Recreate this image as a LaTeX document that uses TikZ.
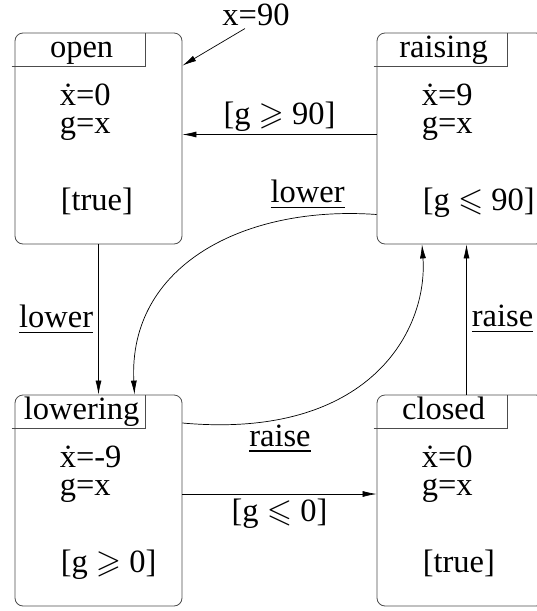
\documentclass[tikz,border=0pt]{standalone}
\usepackage{amssymb}
\usepackage{fontspec}
\setmainfont{Liberation Serif}
\usetikzlibrary{arrows.meta,calc,positioning}
\tikzset{
  statebox/.style={draw=black!70,line width=0.8pt,rounded corners=8pt,minimum width=167pt,minimum height=211pt,inner sep=0pt},
  headline/.style={black!70,line width=0.8pt},
  txt/.style={font=\fontsize{32.5}{36}\selectfont,inner sep=0pt},
  trans/.style={-{Latex[length=14pt,width=6pt]},line width=0.7pt},
}

\begin{document}
\begin{tikzpicture}[x=1pt,y=-1pt]
\useasboundingbox (0,0) rectangle (536,611);
% the four states of the gate
\foreach \nm/\cx/\cy/\ttl/\rate/\inv in {open/98.5/138.5/open/0/{[true]},
    raising/460.5/138.5/raising/9/{[g $\leqslant$ 90]},
    lowering/98.5/500.5/lowering/-9/{[g $\geqslant$ 0]},
    closed/460.5/500.5/closed/0/{[true]}}{
  \node[statebox] (\nm) at (\cx,\cy) {};
  \draw[headline] ($(\nm.north west)+(-3,34)$) -| ($(\nm.north west)+(131,0)$);
  \node[txt,anchor=base] (\nm-title) at ($(\nm.north west)+(67,25)$) {\ttl};
  \node[txt,anchor=base west] (\nm-rate) at ($(\nm.north west)+(45,73)$) {\.x=\rate};
  \node[txt,anchor=base west] (\nm-g) at ($(\nm.north west)+(45,101)$) {g=x};
  \node[txt,anchor=base west] (\nm-inv) at ($(\nm.north west)+(46,178)$) {\inv};
}
\node[txt,anchor=base] (init) at (256,25) {x=90};
\draw[trans] ($(init.south)+(-11,3)$) -- ($(open.north east)+(0,33)$);
\draw[trans] ($(raising.west)+(0,-4)$) -- ($(open.east)+(0,-4)$)
  node[txt,midway,above=3pt] (g90) {[g $\geqslant$ 90]};
\draw[trans] (open) -- (lowering)
  node[txt,midway,left=5pt] (lower1) {\underline{lower}};
\draw[trans] ($(closed.north)+(6,0)$) -- ($(raising.south)+(6,0)$)
  node[txt,midway,right=5pt] (raise1) {\underline{raise}};
\draw[trans] ($(lowering.east)+(0,-6.5)$) -- ($(closed.west)+(0,-6.5)$)
  node[txt,midway,below=5pt] (g0) {[g $\leqslant$ 0]};
\draw[trans] ($(raising.west)+(0,76)$) .. controls (245,205) and (128,265) .. ($(lowering.north)+(36,0)$)
  node[txt,pos=0.18,above=6pt] (lower2) {\underline{lower}};
\draw[trans] ($(lowering.east)+(0,-77.5)$) .. controls (370,440) and (428,330) .. ($(raising.south)+(-38.5,0)$)
  node[txt,pos=0.2,below=5pt] (raise2) {\underline{raise}};
\end{tikzpicture}
\end{document}
